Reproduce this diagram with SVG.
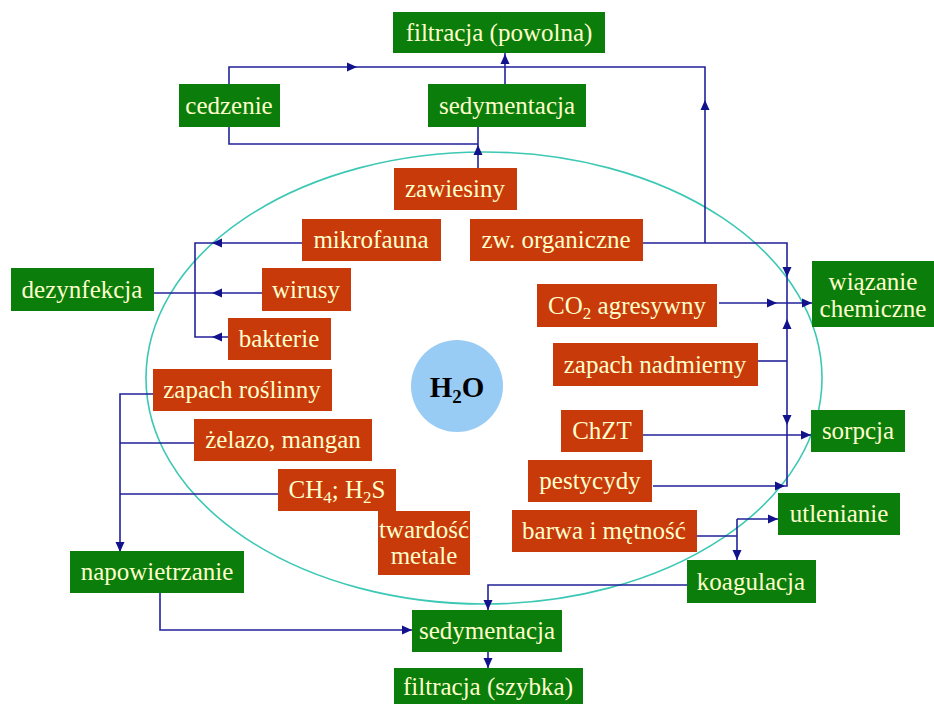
<svg xmlns="http://www.w3.org/2000/svg" xmlns:xlink="http://www.w3.org/1999/xlink" width="934" height="704" viewBox="0 0 934 704">
<style>
.g{fill:#0a7d0a}
.r{fill:#c83a0a}
.t{font-family:"Liberation Serif","Times New Roman",serif;font-size:25px;fill:#ffffcc;text-anchor:middle}
.c{fill:none;stroke:#22229a;stroke-width:1.6}
.ah{fill:#12128c}
</style>
<defs>
<path id="ah" d="M0,0 L-10,-4.5 L-10,4.5 Z"/>
</defs>
<rect x="0" y="0" width="934" height="704" fill="#ffffff"/>
<ellipse cx="484" cy="378" rx="338" ry="226" fill="none" stroke="#3cc8b4" stroke-width="1.6"/>
<g id="h2o">
<circle cx="457" cy="386" r="46" fill="#99ccf5"/>
<text x="457" y="397" font-family="Liberation Serif,serif" font-size="29" font-weight="bold" text-anchor="middle" fill="#000">H<tspan font-size="19" dy="6">2</tspan><tspan dy="-6">O</tspan></text>
</g>
<g id="connectors">
<path class="c" d="M229,84 V67 H705 V243"/>
<path class="c" d="M229,127 V144 H478"/>
<path class="c" d="M478,127 V168"/>
<path class="c" d="M505,84 V53"/>
<path class="c" d="M302,243 H195 V337 H228"/>
<path class="c" d="M262,293 H154"/>
<path class="c" d="M643,243 H787 V486 H653"/>
<path class="c" d="M719,303 H812"/>
<path class="c" d="M758,361 H787"/>
<path class="c" d="M643,435 H811"/>
<path class="c" d="M697,536 H737 M737,519 V560 M737,519 H778"/>
<path class="c" d="M687,585 H488 V610"/>
<path class="c" d="M160,593 V630 H412"/>
<path class="c" d="M488,652 V668"/>
<path class="c" d="M153,394 H120 V552 M194,443 H120 M278,494 H120"/>
<g class="ah">
<use xlink:href="#ah" transform="translate(357,67)"/>
<use xlink:href="#ah" transform="translate(705,100) rotate(-90)"/>
<use xlink:href="#ah" transform="translate(505,54) rotate(-90)"/>
<use xlink:href="#ah" transform="translate(478,145) rotate(-90)"/>
<use xlink:href="#ah" transform="translate(212,243) rotate(180)"/>
<use xlink:href="#ah" transform="translate(212,293) rotate(180)"/>
<use xlink:href="#ah" transform="translate(212,337) rotate(180)"/>
<use xlink:href="#ah" transform="translate(787,277) rotate(90)"/>
<use xlink:href="#ah" transform="translate(777,303)"/>
<use xlink:href="#ah" transform="translate(812,303)"/>
<use xlink:href="#ah" transform="translate(787,319) rotate(-90)"/>
<use xlink:href="#ah" transform="translate(787,425) rotate(90)"/>
<use xlink:href="#ah" transform="translate(811,435)"/>
<use xlink:href="#ah" transform="translate(785,486)"/>
<use xlink:href="#ah" transform="translate(778,519)"/>
<use xlink:href="#ah" transform="translate(737,560) rotate(90)"/>
<use xlink:href="#ah" transform="translate(488,610) rotate(90)"/>
<use xlink:href="#ah" transform="translate(412,630)"/>
<use xlink:href="#ah" transform="translate(488,668) rotate(90)"/>
<use xlink:href="#ah" transform="translate(120,552) rotate(90)"/>
</g>
</g>
<g id="filtracja-powolna"><rect class="g" x="393" y="12" width="212" height="41"/><text class="t" x="499" y="41">filtracja (powolna)</text></g>
<g id="cedzenie"><rect class="g" x="179" y="84" width="101" height="43"/><text class="t" x="229" y="114">cedzenie</text></g>
<g id="sedymentacja-top"><rect class="g" x="428" y="84" width="158" height="43"/><text class="t" x="507" y="114">sedymentacja</text></g>
<g id="zawiesiny"><rect class="r" x="394" y="168" width="123" height="42"/><text class="t" x="455" y="197">zawiesiny</text></g>
<g id="mikrofauna"><rect class="r" x="302" y="219" width="139" height="42"/><text class="t" x="371" y="248">mikrofauna</text></g>
<g id="zw-organiczne"><rect class="r" x="470" y="219" width="173" height="42"/><text class="t" x="556" y="248">zw. organiczne</text></g>
<g id="dezynfekcja"><rect class="g" x="11" y="268" width="143" height="43"/><text class="t" x="82" y="298">dezynfekcja</text></g>
<g id="wirusy"><rect class="r" x="262" y="268" width="89" height="43"/><text class="t" x="306" y="298">wirusy</text></g>
<g id="bakterie"><rect class="r" x="228" y="318" width="103" height="42"/><text class="t" x="279" y="347">bakterie</text></g>
<g id="wiazanie-chemiczne"><rect class="g" x="812" y="261" width="122" height="66"/><text class="t" x="873" y="290">wiązanie</text><text class="t" x="873" y="317">chemiczne</text></g>
<g id="co2"><rect class="r" x="537" y="284" width="180" height="43"/><text class="t" x="627" y="314">CO<tspan font-size="17" dy="5">2</tspan><tspan dy="-5"> agresywny</tspan></text></g>
<g id="zapach-nadmierny"><rect class="r" x="553" y="343" width="205" height="43"/><text class="t" x="655" y="373">zapach nadmierny</text></g>
<g id="zapach-roslinny"><rect class="r" x="153" y="369" width="179" height="42"/><text class="t" x="242" y="398">zapach roślinny</text></g>
<g id="zelazo-mangan"><rect class="r" x="194" y="419" width="178" height="42"/><text class="t" x="283" y="448">żelazo, mangan</text></g>
<g id="chzt"><rect class="r" x="561" y="410" width="82" height="42"/><text class="t" x="602" y="439">ChZT</text></g>
<g id="sorpcja"><rect class="g" x="811" y="410" width="94" height="42"/><text class="t" x="858" y="439">sorpcja</text></g>
<g id="ch4-h2s"><rect class="r" x="278" y="469" width="118" height="42"/><text class="t" x="337" y="498">CH<tspan font-size="17" dy="5">4</tspan><tspan dy="-5">; H</tspan><tspan font-size="17" dy="5">2</tspan><tspan dy="-5">S</tspan></text></g>
<g id="pestycydy"><rect class="r" x="528" y="460" width="124" height="42"/><text class="t" x="590" y="489">pestycydy</text></g>
<g id="twardosc-metale"><rect class="r" x="378" y="511" width="92" height="64"/><text class="t" x="424" y="538" font-size="24">twardość</text><text class="t" x="424" y="564">metale</text></g>
<g id="utlenianie"><rect class="g" x="778" y="493" width="122" height="42"/><text class="t" x="839" y="522">utlenianie</text></g>
<g id="barwa-metnosc"><rect class="r" x="512" y="510" width="185" height="42"/><text class="t" x="604" y="539">barwa i mętność</text></g>
<g id="napowietrzanie"><rect class="g" x="70" y="551" width="174" height="42"/><text class="t" x="157" y="580">napowietrzanie</text></g>
<g id="koagulacja"><rect class="g" x="687" y="560" width="129" height="43"/><text class="t" x="751" y="590">koagulacja</text></g>
<g id="sedymentacja-bottom"><rect class="g" x="412" y="610" width="150" height="42"/><text class="t" x="487" y="639">sedymentacja</text></g>
<g id="filtracja-szybka"><rect class="g" x="394" y="668" width="189" height="36"/><text class="t" x="488" y="695">filtracja (szybka)</text></g>
</svg>
